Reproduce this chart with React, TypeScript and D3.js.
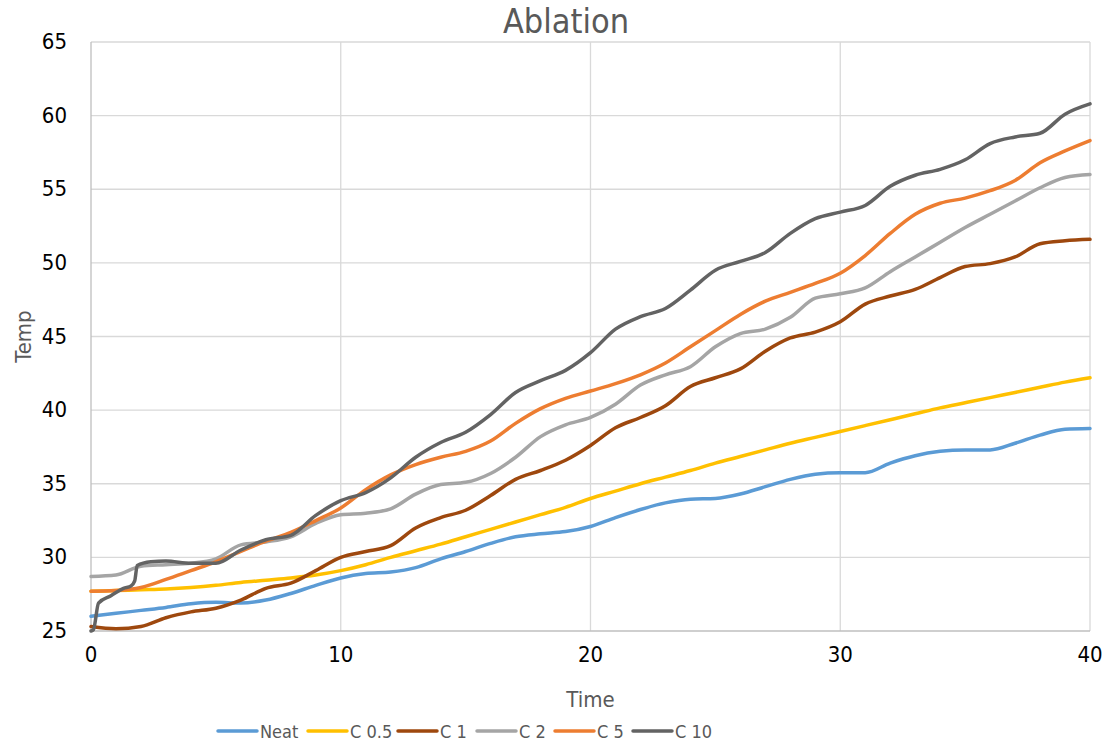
import { useEffect, useRef } from "react"
import * as d3 from "d3"

// time grid shared by most series (minutes)
const timeGrid = d3.range(0, 41)

const neat = [
  26.0, 26.2, 26.4, 26.6, 26.85, 26.95, 26.9, 27.1, 27.55, 28.1, 28.6, 28.9, 29.0, 29.3, 29.9, 30.4, 30.95, 31.4,
  31.6, 31.75, 32.1, 32.7, 33.25, 33.7, 33.95, 34.0, 34.3, 34.8, 35.3, 35.65, 35.75, 35.75, 36.4, 36.9, 37.2, 37.3,
  37.3, 37.75, 38.3, 38.7, 38.75,
]
const c05 = [
  27.7, 27.75, 27.8, 27.85, 27.95, 28.1, 28.3, 28.45, 28.6, 28.8, 29.1, 29.5, 30.0, 30.45, 30.9, 31.4, 31.9, 32.4,
  32.9, 33.4, 34.0, 34.5, 35.0, 35.45, 35.9, 36.4, 36.85, 37.3, 37.75, 38.15, 38.55, 38.95, 39.35, 39.75, 40.15,
  40.5, 40.85, 41.2, 41.55, 41.9, 42.2,
]
const c1 = [
  25.3, 25.15, 25.3, 25.9, 26.3, 26.55, 27.1, 27.9, 28.25, 29.1, 30.0, 30.4, 30.8, 32.0, 32.7, 33.2, 34.2, 35.3,
  35.9, 36.6, 37.6, 38.8, 39.5, 40.3, 41.6, 42.2, 42.8, 44.0, 44.9, 45.3, 46.0, 47.2, 47.75, 48.2, 49.0, 49.75,
  49.95, 50.4, 51.3, 51.5, 51.6,
]
const c2 = [
  28.7, 28.8, 29.4, 29.5, 29.6, 29.9, 30.85, 31.05, 31.4, 32.3, 32.9, 33.0, 33.3, 34.3, 34.95, 35.1, 35.7, 36.8,
  38.2, 39.0, 39.5, 40.4, 41.7, 42.4, 42.95, 44.3, 45.2, 45.5, 46.3, 47.6, 47.9, 48.3, 49.4, 50.4, 51.4, 52.4, 53.3,
  54.2, 55.1, 55.8, 56.0,
]
const c5 = [
  27.7, 27.75, 27.95, 28.5, 29.1, 29.7, 30.4, 31.1, 31.7, 32.5, 33.35, 34.6, 35.6, 36.3, 36.8, 37.2, 37.9, 39.1,
  40.1, 40.8, 41.3, 41.8, 42.4, 43.2, 44.3, 45.4, 46.5, 47.4, 48.0, 48.6, 49.3, 50.5, 52.0, 53.3, 54.05, 54.4, 54.9,
  55.6, 56.8, 57.6, 58.3,
]
// C 10 has a jumpy start, so it keeps its own time points
const timeC10 = [
  0, 0.1, 0.3, 0.8, 1.3, 1.6, 1.75, 1.85, 2.4, 3, 4, 5, 6, 7, 8, 9, 10, 11, 12, 13, 14, 15, 16, 17, 18, 19, 20, 21,
  22, 23, 24, 25, 26, 27, 28, 29, 30, 31, 32, 33, 34, 35, 36, 37, 38, 39, 40,
]
const c10 = [
  25.0, 25.1, 26.9, 27.4, 27.9, 28.05, 28.4, 29.45, 29.7, 29.75, 29.6, 29.6, 30.5, 31.2, 31.5, 32.85, 33.85, 34.4,
  35.4, 36.8, 37.8, 38.5, 39.7, 41.2, 42.0, 42.7, 43.9, 45.5, 46.35, 46.9, 48.15, 49.5, 50.1, 50.7, 52.0, 53.0,
  53.45, 53.9, 55.2, 55.95, 56.35, 57.0, 58.1, 58.55, 58.8, 60.1, 60.8,
]

const seriesNames = ["Neat", "C 0.5", "C 1", "C 2", "C 5", "C 10"]
const seriesColors = ["#5B9BD5", "#FFC000", "#9E480E", "#A5A5A5", "#ED7D31", "#636363"]
const seriesTimes = [timeGrid, timeGrid, timeGrid, timeGrid, timeGrid, timeC10]
const seriesValues = [neat, c05, c1, c2, c5, c10]

const xTicks = [0, 10, 20, 30, 40]
const yTicks = [25, 30, 35, 40, 45, 50, 55, 60, 65]

const FONT = "'Liberation Sans Narrow', 'DejaVu Sans Condensed', 'Liberation Sans', sans-serif"

const AblationChart = () => {
  const svgRef = useRef<SVGSVGElement>(null)

  useEffect(() => {
    if (!svgRef.current) return
    const svg = d3.select(svgRef.current)
    svg.selectAll("*").remove()

    const width = 1104
    const height = 742
    const margin = { top: 42, right: 14, bottom: 111, left: 91 }
    const innerWidth = width - margin.left - margin.right
    const innerHeight = height - margin.top - margin.bottom

    const xScale = d3.scaleLinear().domain([0, 40]).range([0, innerWidth])
    const yScale = d3.scaleLinear().domain([25, 65]).range([innerHeight, 0])

    svg.append("rect").attr("width", width).attr("height", height).attr("fill", "white")

    // title
    svg
      .append("text")
      .attr("x", 566)
      .attr("y", 33)
      .attr("text-anchor", "middle")
      .attr("font-family", FONT)
      .attr("font-size", "34px")
      .attr("fill", "#595959")
      .text("Ablation")

    const g = svg.append("g").attr("transform", `translate(${margin.left},${margin.top})`)

    // gridlines
    g.selectAll(".hgrid")
      .data(yTicks.filter((d) => d !== 25))
      .enter()
      .append("line")
      .attr("x1", 0)
      .attr("x2", innerWidth)
      .attr("y1", (d) => yScale(d))
      .attr("y2", (d) => yScale(d))
      .attr("stroke", "#d9d9d9")
      .attr("stroke-width", 1.3)

    g.selectAll(".vgrid")
      .data(xTicks.filter((d) => d !== 0))
      .enter()
      .append("line")
      .attr("x1", (d) => xScale(d))
      .attr("x2", (d) => xScale(d))
      .attr("y1", 0)
      .attr("y2", innerHeight)
      .attr("stroke", "#d9d9d9")
      .attr("stroke-width", 1.3)

    // axis lines
    g.append("line")
      .attr("x1", 0)
      .attr("x2", 0)
      .attr("y1", 0)
      .attr("y2", innerHeight)
      .attr("stroke", "#bfbfbf")
      .attr("stroke-width", 1.3)
    g.append("line")
      .attr("x1", 0)
      .attr("x2", innerWidth)
      .attr("y1", innerHeight)
      .attr("y2", innerHeight)
      .attr("stroke", "#bfbfbf")
      .attr("stroke-width", 1.3)

    // tick labels
    g.selectAll(".ylab")
      .data(yTicks)
      .enter()
      .append("text")
      .attr("x", -24)
      .attr("y", (d) => yScale(d) + 7)
      .attr("text-anchor", "end")
      .attr("font-family", FONT)
      .attr("font-size", "22px")
      .attr("fill", "#000")
      .text((d) => d)

    g.selectAll(".xlab")
      .data(xTicks)
      .enter()
      .append("text")
      .attr("x", (d) => xScale(d))
      .attr("y", innerHeight + 31)
      .attr("text-anchor", "middle")
      .attr("font-family", FONT)
      .attr("font-size", "22px")
      .attr("fill", "#000")
      .text((d) => d)

    // axis titles
    svg
      .append("text")
      .attr("transform", `translate(31,${margin.top + innerHeight / 2}) rotate(-90)`)
      .attr("text-anchor", "middle")
      .attr("font-family", FONT)
      .attr("font-size", "22px")
      .attr("fill", "#595959")
      .text("Temp")

    svg
      .append("text")
      .attr("x", margin.left + innerWidth / 2)
      .attr("y", 707)
      .attr("text-anchor", "middle")
      .attr("font-family", FONT)
      .attr("font-size", "22px")
      .attr("fill", "#595959")
      .text("Time")

    // series lines
    const line = d3
      .line<[number, number]>()
      .x((d) => xScale(d[0]))
      .y((d) => yScale(d[1]))
      .curve(d3.curveMonotoneX)

    seriesValues.forEach((vals, i) => {
      const pts = vals.map((v, j) => [seriesTimes[i][j], v] as [number, number])
      g.append("path")
        .datum(pts)
        .attr("fill", "none")
        .attr("stroke", seriesColors[i])
        .attr("stroke-width", 3.5)
        .attr("stroke-linejoin", "round")
        .attr("stroke-linecap", "round")
        .attr("d", line)
    })

    // legend
    const legendX = [218, 308, 398, 477, 555, 633]
    const legend = svg.append("g").attr("transform", "translate(0,731)")
    seriesNames.forEach((name, i) => {
      legend
        .append("line")
        .attr("x1", legendX[i])
        .attr("x2", legendX[i] + 39)
        .attr("y1", 0)
        .attr("y2", 0)
        .attr("stroke", seriesColors[i])
        .attr("stroke-width", 3.5)
        .attr("stroke-linecap", "round")
      legend
        .append("text")
        .attr("x", legendX[i] + 42)
        .attr("y", 7)
        .attr("font-family", FONT)
        .attr("font-size", "18px")
        .attr("fill", "#595959")
        .text(name)
    })
  }, [])

  return <svg ref={svgRef} width={1104} height={742} style={{ position: "absolute", left: 0, top: 0 }} />
}

export default function App() {
  return <AblationChart />
}
